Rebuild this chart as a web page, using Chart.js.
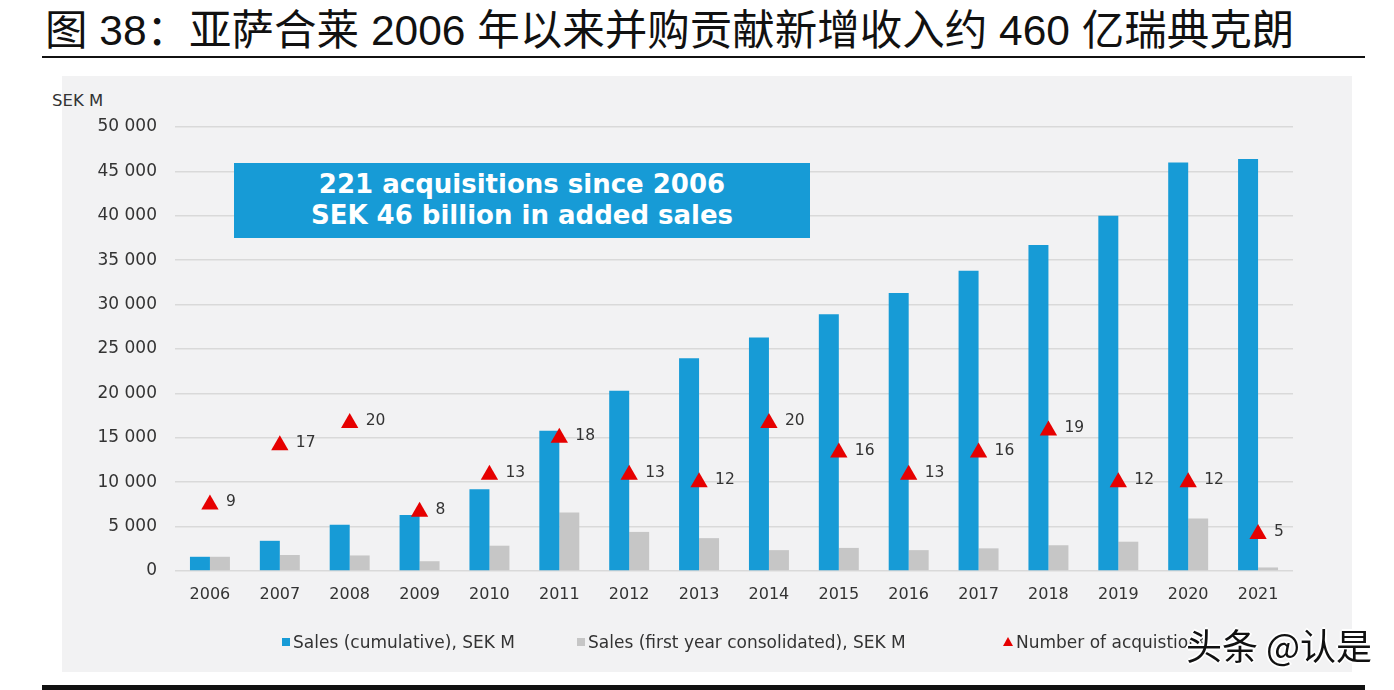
<!DOCTYPE html>
<html>
<head>
<meta charset="utf-8">
<script src="https://cdn.jsdelivr.net/npm/chart.js@4.4.0/dist/chart.umd.min.js"></script>
<style>
  html, body { margin: 0; padding: 0; background: #fff; }
  body { width: 1394px; height: 690px; position: relative; overflow: hidden; font-family: "DejaVu Sans", sans-serif; }
  #title { position: absolute; left: 45px; top: -4px; font: 42.5px "Liberation Sans", "Noto Sans CJK SC", sans-serif; color: #111; white-space: nowrap; }
  #rule { position: absolute; left: 42px; top: 56px; width: 1323px; height: 2px; background: #111; }
  #panel { position: absolute; left: 62px; top: 76px; width: 1290px; height: 596px; background: #f2f2f3; }
  #foot { position: absolute; left: 42px; top: 685px; width: 1323px; height: 5px; background: #111; }
  #unit { position: absolute; left: 52px; top: 91px; font-size: 16.5px; color: #333; }
  #box { position: absolute; left: 234px; top: 163px; width: 576px; height: 75px; background: #179bd6;
         color: #fff; font: bold 26px "DejaVu Sans", sans-serif; text-align: center; line-height: 31px; padding-top: 6px; box-sizing: border-box; }
  canvas { position: absolute; left: 0; top: 0; }
  .lg { position: absolute; top: 632px; font-size: 17px; color: #333; white-space: nowrap; }
  .sq { display: inline-block; width: 8px; height: 8px; margin-right: 3px; vertical-align: 2px; }
  .tri { display: inline-block; width: 0; height: 0; border-left: 5px solid transparent; border-right: 5px solid transparent; border-bottom: 9px solid #e60000; margin-right: 3px; vertical-align: 2px; }
  #wm { position: absolute; left: 1186px; top: 618px; font: 36px "Noto Sans CJK SC", sans-serif; color: #111;
        text-shadow: -2px 0 #fff, 2px 0 #fff, 0 -2px #fff, 0 2px #fff; white-space: nowrap; }
</style>
</head>
<body>
<div id="title">图 38：亚萨合莱 2006 年以来并购贡献新增收入约 460 亿瑞典克朗</div>
<div id="rule"></div>
<div id="panel"></div>
<div id="unit">SEK M</div>
<canvas id="chart" width="1394" height="690"></canvas>
<div id="box">221 acquisitions since 2006<br>SEK 46 billion in added sales</div>
<div class="lg" style="left:282px"><span class="sq" style="background:#179bd6"></span>Sales (cumulative), SEK M</div>
<div class="lg" style="left:577px"><span class="sq" style="background:#c6c6c6"></span>Sales (first year consolidated), SEK M</div>
<div class="lg" style="left:1003px"><span class="tri"></span>Number of acquistions</div>
<div id="wm">头条 @认是</div>
<div id="foot"></div>
<script>
const years = ['2006', '2007', '2008', '2009', '2010', '2011', '2012', '2013',
  '2014', '2015', '2016', '2017', '2018', '2019', '2020', '2021'];
const salesCumulative = [1600, 3400, 5200, 6300, 9200, 15800, 20300, 23950,
  26300, 28900, 31300, 33800, 36700, 40000, 46000, 46400];
const salesFirstYear = [1600, 1800, 1750, 1100, 2850, 6600, 4400, 3700,
  2350, 2600, 2350, 2550, 2900, 3300, 5900, 400];
const acquisitions = [9, 17, 20, 8, 13, 18, 13, 12, 20, 16, 13, 16, 19, 12, 12, 5];
const yTicks = [0, 5000, 10000, 15000, 20000, 25000, 30000, 35000, 40000, 45000, 50000];

function fmt(v) {
  return String(v).replace(/\B(?=(\d{3})+(?!\d))/g, ' ');
}

// numbers next to the triangles
const countLabels = {
  id: 'countLabels',
  afterDatasetsDraw(chart) {
    const meta = chart.getDatasetMeta(2);
    const ctx = chart.ctx;
    ctx.save();
    ctx.font = '15.5px "DejaVu Sans"';
    ctx.fillStyle = '#333';
    ctx.textBaseline = 'middle';
    ctx.textAlign = 'left';
    meta.data.forEach((pt, i) => {
      ctx.fillText(acquisitions[i], pt.x + 16, pt.y - 2);
    });
    ctx.restore();
  }
};

new Chart(document.getElementById('chart'), {
  data: {
    labels: years,
    datasets: [{
      type: 'bar',
      label: 'Sales (cumulative), SEK M',
      data: salesCumulative,
      backgroundColor: '#179bd6',
      categoryPercentage: 0.572,
      barPercentage: 1,
      order: 2
    }, {
      type: 'bar',
      label: 'Sales (first year consolidated), SEK M',
      data: salesFirstYear,
      backgroundColor: '#c6c6c6',
      categoryPercentage: 0.572,
      barPercentage: 1,
      order: 2
    }, {
      type: 'line',
      label: 'Number of acquistions',
      data: acquisitions,
      yAxisID: 'y2',
      showLine: false,
      pointStyle: 'triangle',
      pointRadius: 10,
      pointBackgroundColor: '#e60000',
      pointBorderWidth: 0,
      order: 1
    }]
  },
  options: {
    responsive: false,
    animation: false,
    layout: { padding: { left: 0, right: 101, top: 127, bottom: 79 } },
    plugins: {
      legend: { display: false },
      tooltip: { enabled: false }
    },
    scales: {
      x: {
        grid: { display: false },
        border: { display: false },
        ticks: { color: '#333', font: { family: 'DejaVu Sans', size: 16 }, padding: 6 },
        afterFit(s) { s.height = 40; }
      },
      y: {
        min: 0,
        max: 50000,
        afterBuildTicks(s) { s.ticks = yTicks.map(v => ({ value: v })); },
        grid: { color: '#d9d9d9', lineWidth: 1.6, drawTicks: false },
        border: { display: false },
        ticks: { color: '#333', font: { family: 'DejaVu Sans', size: 17 }, padding: 18, callback: v => fmt(v) },
        afterFit(s) { s.width = 175; }
      },
      y2: {
        display: false,
        min: 0,
        max: 60
      }
    }
  },
  plugins: [countLabels]
});
</script>
</body>
</html>
